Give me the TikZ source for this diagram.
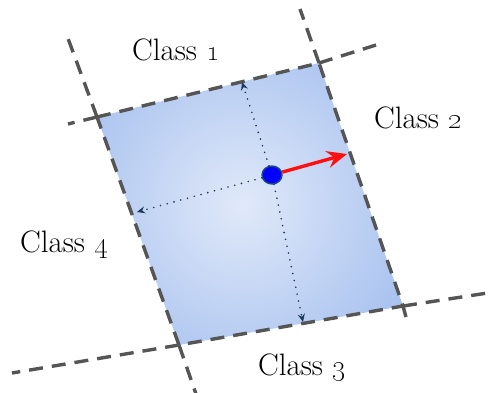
\documentclass[tikz,border=0pt]{standalone}
\usetikzlibrary{arrows.meta,shapes.geometric}
\definecolor{edgeblue}{HTML}{7DA3E8}
\definecolor{centerblue}{HTML}{E0E9F9}
\definecolor{dashgray}{HTML}{555555}
\definecolor{navy}{HTML}{1B3A5C}
\definecolor{dotrim}{HTML}{1F4E79}
\definecolor{arrowred}{HTML}{FF1010}
\tikzset{
  boundary/.style={draw=dashgray, line width=3.4pt, dash pattern=on 14pt off 9pt},
  guide/.style={draw=navy, line width=1.8pt, line cap=round, dash pattern=on 0pt off 7pt, -{Stealth[length=8pt,width=7pt]}},
  weight/.style={draw=arrowred, line width=3.4pt, -{Stealth[length=20pt,width=17pt,inset=7pt]}},
  classlabel/.style={font=\fontsize{31}{36}\selectfont, inner sep=0pt},
}
\begin{document}
\begin{tikzpicture}[x=1pt,y=-1pt]
\useasboundingbox (0,0) rectangle (492,392);
% corners
\coordinate (TL) at (97,117);
\coordinate (TR) at (319,63);
\coordinate (BR) at (403,306);
\coordinate (BL) at (179,345);
% extension ends
\coordinate (e1) at (68,124);
\coordinate (e2) at (66,33);
\coordinate (e3) at (300,9);
\coordinate (e4) at (376,45);
\coordinate (e5) at (494,292);
\coordinate (e6) at (406,317);
\coordinate (e7) at (12,373);
\coordinate (e8) at (196,394);
% shaded region
\begin{scope}
  \clip (TL) -- (TR) -- (BR) -- (BL) -- cycle;
  \shade[inner color=centerblue, outer color=edgeblue] (242,205) circle (330);
\end{scope}
% boundaries
\draw[boundary] (TL) -- (TR) -- (BR) -- (BL) -- cycle;
\draw[boundary] (TL) -- (e1);
\draw[boundary] (TL) -- (e2);
\draw[boundary] (TR) -- (e3);
\draw[boundary] (TR) -- (e4);
\draw[boundary] (BR) -- (e5);
\draw[boundary] (BR) -- (e6);
\draw[boundary] (BL) -- (e7);
\draw[boundary] (BL) -- (e8);
% point and arrows
\node[ellipse, draw=dotrim, line width=1.4pt, fill=blue, minimum width=20pt, minimum height=18pt, inner sep=0pt] (p) at (272,175) {};
\coordinate (up) at (242,82);
\coordinate (lf) at (137,212);
\coordinate (dn) at (303,322);
\coordinate (w) at (347,154);
\draw[guide] (p) -- (up);
\draw[guide] (p) -- (lf);
\draw[guide] (p) -- (dn);
\draw[weight] (p) -- (w);
% labels
\node[classlabel] (c1) at (176,50) {Class \oldstylenums{1}};
\node[classlabel] (c2) at (418,118) {Class \oldstylenums{2}};
\node[classlabel] (c3) at (302,368) {Class \oldstylenums{3}};
\node[classlabel] (c4) at (64,245) {Class \oldstylenums{4}};
\end{tikzpicture}
\end{document}
